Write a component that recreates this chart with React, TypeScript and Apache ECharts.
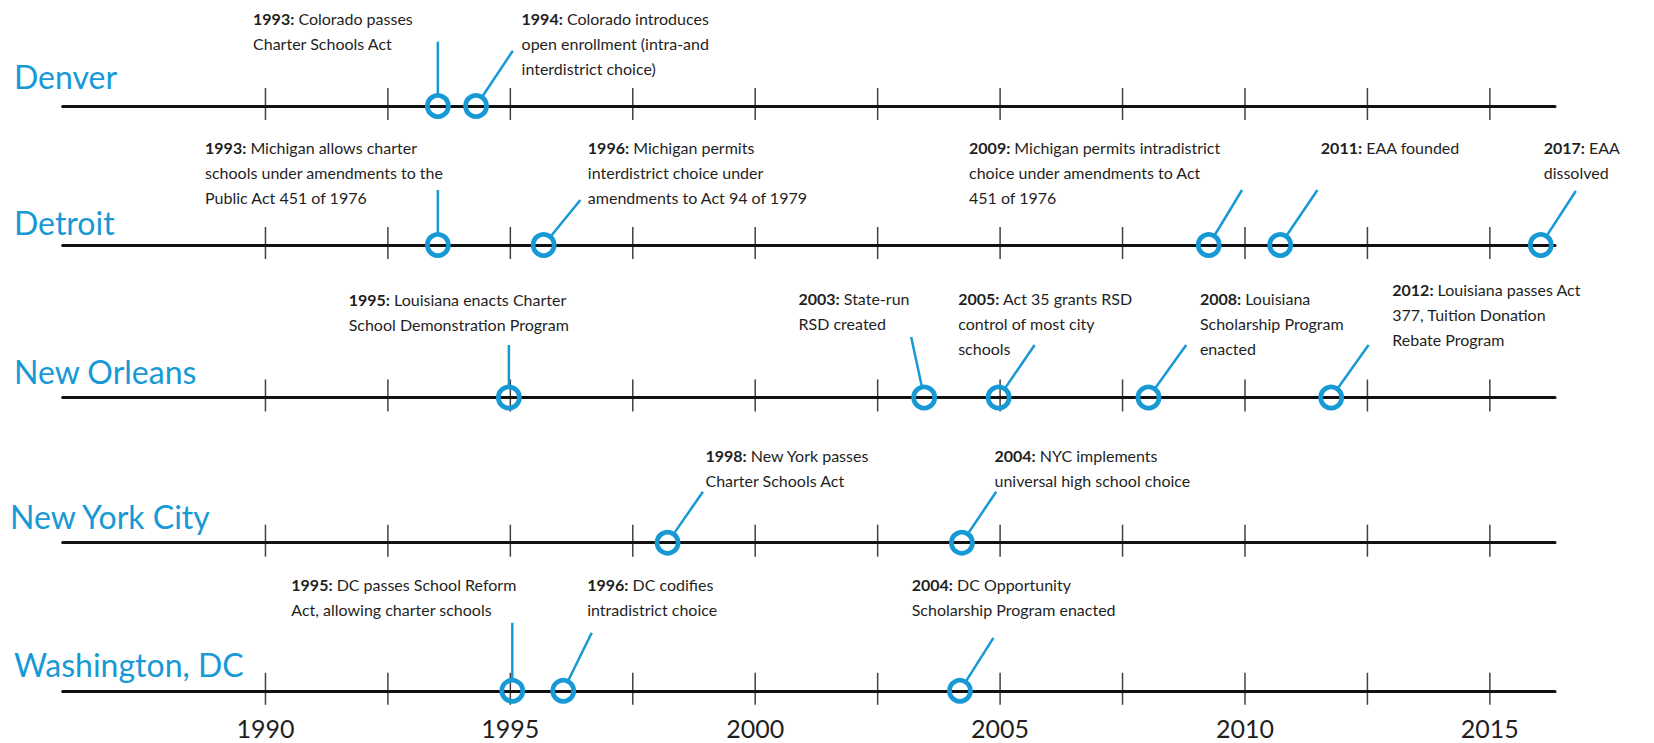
import React, { useEffect, useRef } from "react";
import * as echarts from "echarts";

// ---------- data ----------
const cities = ["Denver", "Detroit", "New Orleans", "New York City", "Washington, DC"];
const timelineStart = 1985.86;
const timelineEnd = 2016.33;
const tickYears = [1990, 1992.5, 1995, 1997.5, 2000, 2002.5, 2005, 2007.5, 2010, 2012.5, 2015];
const axisYears = [1990, 1995, 2000, 2005, 2010, 2015];

const eventCity = [0, 0, 1, 1, 1, 1, 1, 2, 2, 2, 2, 2, 3, 3, 4, 4, 4];
const eventPos = [
  1993.52, 1994.3,
  1993.52, 1995.68, 2009.26, 2010.72, 2016.04,
  1994.97, 2003.45, 2004.97, 2008.03, 2011.76,
  1998.21, 2004.22,
  1995.04, 1996.08, 2004.18,
];
const eventYear = [
  "1993", "1994",
  "1993", "1996", "2009", "2011", "2017",
  "1995", "2003", "2005", "2008", "2012",
  "1998", "2004",
  "1995", "1996", "2004",
];
const eventText = [
  "Colorado passes\nCharter Schools Act",
  "Colorado introduces\nopen enrollment (intra-and\ninterdistrict choice)",
  "Michigan allows charter\nschools under amendments to the\nPublic Act 451 of 1976",
  "Michigan permits\ninterdistrict choice under\namendments to Act 94 of 1979",
  "Michigan permits intradistrict\nchoice under amendments to Act\n451 of 1976",
  "EAA founded",
  "EAA\ndissolved",
  "Louisiana enacts Charter\nSchool Demonstration Program",
  "State-run\nRSD created",
  "Act 35 grants RSD\ncontrol of most city\nschools",
  "Louisiana\nScholarship Program\nenacted",
  "Louisiana passes Act\n377, Tuition Donation\nRebate Program",
  "New York passes\nCharter Schools Act",
  "NYC implements\nuniversal high school choice",
  "DC passes School Reform\nAct, allowing charter schools",
  "DC codifies\nintradistrict choice",
  "DC Opportunity\nScholarship Program enacted",
];

// ---------- layout (pixels) ----------
const GRID_LEFT = 62.7;
const GRID_RIGHT = 99;
const rowLineY = [106, 245, 397.5, 542.7, 690.8];
const titleX = [14, 14, 14, 10, 14];
const titleDy = [-29.3, -23, -25.8, -26, -26];
const leaderEnd = [
  [0, -64.3], [36.8, -55.3],
  [0, -55], [36.7, -45], [33.3, -55], [37.2, -55], [35, -54],
  [0, -52.5], [-13, -60.5], [36, -52.5], [37.7, -52.5], [37.4, -52.5],
  [35.4, -51], [34.3, -51],
  [0, -68], [28.5, -58], [33.5, -53],
];
const labelOffset = [
  [-184.8, -87.5], [45.5, -87.5],
  [-232.8, -98], [44.2, -98], [-239.7, -98], [40.6, -98], [2.9, -98],
  [-160.2, -98.5], [-125.7, -99], [-40.5, -99], [51.4, -99], [61.1, -108.5],
  [37.9, -87.7], [32.6, -87.7],
  [-221, -106], [23.9, -106], [-48.2, -106],
];

const BLUE = "#1799d6";
const INK = "#1f1f1f";
const FONT = 'Lato, "Noto Sans", sans-serif';
const LINE_H = 25;

export default function App() {
  const ref = useRef<HTMLDivElement>(null);

  useEffect(() => {
    if (!ref.current) return;
    const chart = echarts.init(ref.current, null, { renderer: "svg" });

    const grids = cities.map((_, i) => ({
      left: GRID_LEFT,
      right: GRID_RIGHT,
      top: rowLineY[i] - 16,
      height: 16,
    }));

    const xAxes = cities.map((_, i) => ({
      type: "value",
      gridIndex: i,
      min: timelineStart,
      max: timelineEnd,
      axisLine: { show: true, onZero: true, lineStyle: { color: "#111", width: 3 } },
      axisTick: { show: false },
      splitLine: { show: false },
      axisLabel:
        i === cities.length - 1
          ? {
              show: true,
              customValues: axisYears,
              fontSize: 25,
              fontFamily: FONT,
              color: INK,
              margin: 25,
              formatter: (v: number) => String(Math.round(v)),
            }
          : { show: false },
    }));

    const yAxes = cities.map((_, i) => ({
      type: "value",
      gridIndex: i,
      min: 0,
      max: 1,
      show: false,
    }));

    const series: any[] = [];
    cities.forEach((_, i) => {
      series.push({
        type: "scatter",
        xAxisIndex: i,
        yAxisIndex: i,
        silent: true,
        clip: false,
        symbol: "rect",
        symbolSize: [1.5, 32],
        symbolOffset: [0, -2],
        itemStyle: { color: "#111" },
        z: 1,
        data: tickYears.map((t) => [t, 0]),
      });
      const data = eventPos
        .map((p, k) => [p, 0, k])
        .filter((d) => eventCity[d[2]] === i);
      series.push({
        type: "custom",
        xAxisIndex: i,
        yAxisIndex: i,
        clip: false,
        silent: true,
        z: 3,
        encode: { x: 0, y: 1 },
        data,
        renderItem: (params: any, api: any) => {
          const k = api.value(2);
          const c = api.coord([api.value(0), 0]);
          const le = leaderEnd[k];
          const lo = labelOffset[k];
          const len = Math.hypot(le[0], le[1]);
          const r0 = 12;
          const sx = c[0] + (le[0] / len) * r0;
          const sy = c[1] + (le[1] / len) * r0;
          return {
            type: "group",
            children: [
              {
                type: "line",
                shape: { x1: sx, y1: sy, x2: c[0] + le[0], y2: c[1] + le[1] },
                style: { stroke: BLUE, lineWidth: 2.5 },
              },
              {
                type: "circle",
                shape: { cx: c[0], cy: c[1], r: 10.5 },
                style: { fill: "none", stroke: BLUE, lineWidth: 4.8 },
              },
              {
                type: "text",
                x: c[0] + lo[0],
                y: c[1] + lo[1] - LINE_H / 2,
                style: {
                  text: "{b|" + eventYear[k] + ":} " + eventText[k],
                  fontSize: 16,
                  fontFamily: FONT,
                  lineHeight: LINE_H,
                  fill: INK,
                  align: "left",
                  verticalAlign: "top",
                  rich: {
                    b: {
                      fontWeight: "bold",
                      fontSize: 16,
                      fontFamily: FONT,
                      lineHeight: LINE_H,
                      fill: INK,
                    },
                  },
                },
              },
            ],
          };
        },
      });
    });

    const graphic = cities.map((c, i) => ({
      type: "text",
      x: titleX[i],
      y: rowLineY[i] + titleDy[i],
      style: {
        text: c,
        fontSize: 32,
        fontFamily: FONT,
        fill: BLUE,
        align: "left",
        verticalAlign: "middle",
      },
    }));

    chart.setOption({
      animation: false,
      backgroundColor: "#ffffff",
      grid: grids,
      xAxis: xAxes,
      yAxis: yAxes,
      series,
      graphic,
    });

    return () => chart.dispose();
  }, []);

  return (
    <div
      ref={ref}
      style={{ position: "fixed", left: 0, top: 0, width: 1654, height: 743, background: "#fff" }}
    />
  );
}
